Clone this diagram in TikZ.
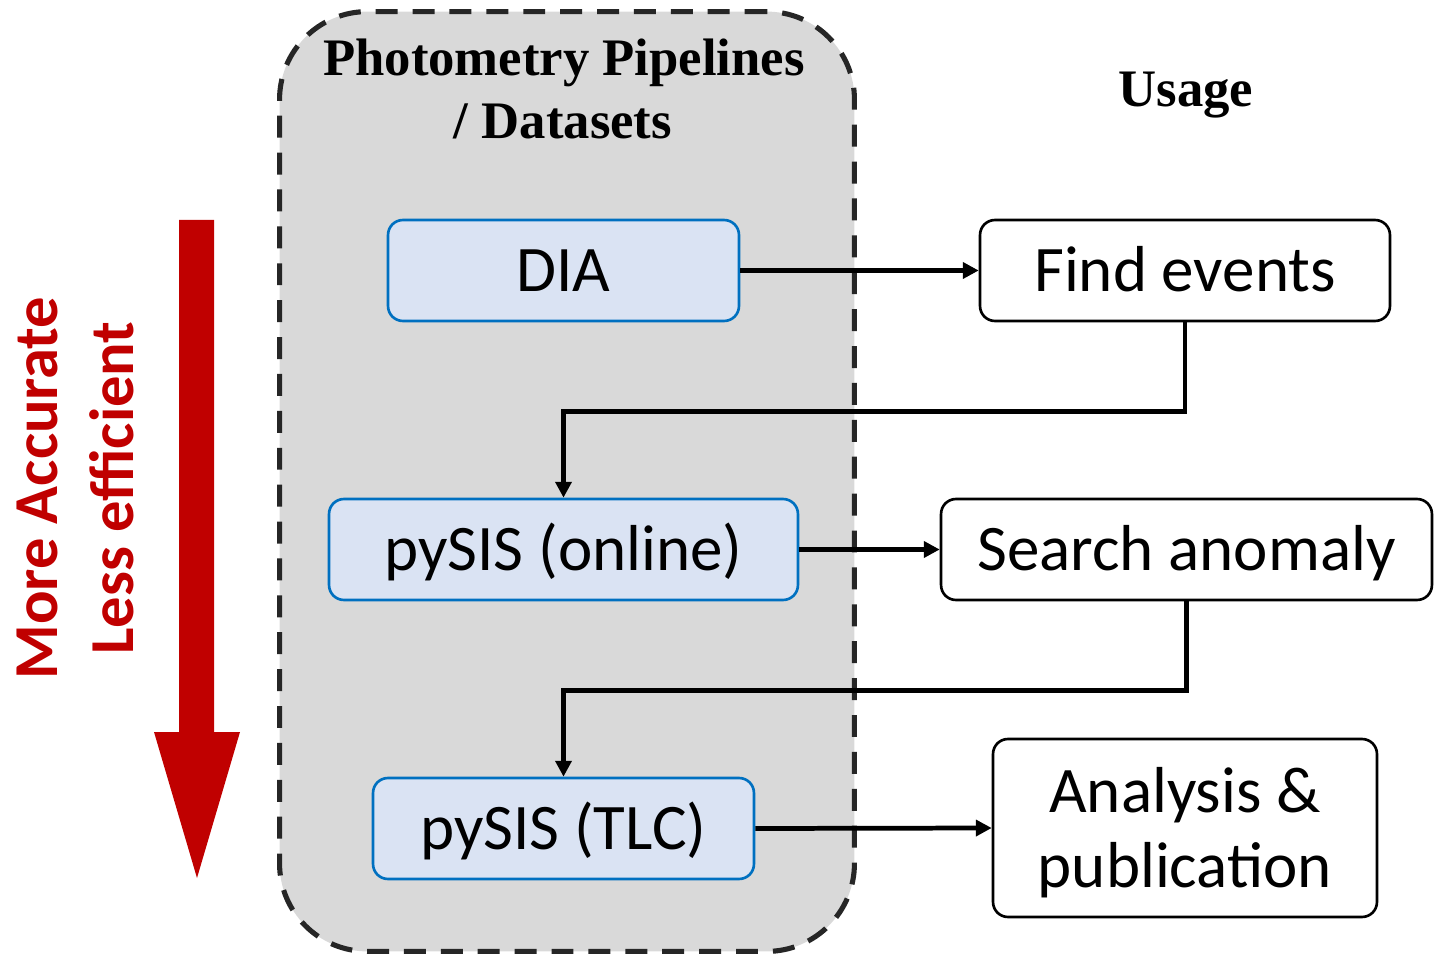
\documentclass[tikz,border=0pt]{standalone}
\usepackage{fontspec}
\setmainfont{Carlito}
\newfontfamily\titlefont{Liberation Serif}
\usetikzlibrary{arrows.meta}
\definecolor{panelgray}{HTML}{D9D9D9}
\definecolor{dashgray}{HTML}{262626}
\definecolor{boxblue}{HTML}{DAE3F3}
\definecolor{edgeblue}{HTML}{0070C0}
\definecolor{darkred}{HTML}{C00000}
\begin{document}
\begin{tikzpicture}[x=0.02cm,y=-0.02cm,
  panelbox/.style={draw=dashgray, fill=panelgray, line width=2.9pt, dash pattern=on 12.5pt off 8.5pt, rounded corners=50pt, inner sep=0pt, minimum width=11.5cm, minimum height=18.8cm},
  pipebox/.style={draw=edgeblue, fill=boxblue, line width=1.5pt, rounded corners=8.5pt, minimum height=2.02cm, inner sep=0pt, font=\fontsize{37}{43}\selectfont},
  usebox/.style={draw=black, fill=white, line width=1.5pt, rounded corners=8.5pt, inner sep=0pt, font=\fontsize{37}{43}\selectfont, align=center},
  capc/.style={text height=23.8pt, text depth=0pt},
  heading/.style={font=\titlefont\bfseries\fontsize{30}{36}\selectfont, anchor=base, inner sep=0pt},
  sidetext/.style={font=\bfseries\fontsize{35.6}{40}\selectfont, text=darkred, rotate=90, anchor=base, inner sep=0pt},
  conn/.style={draw=black, line width=2.7pt, -{Triangle[length=9pt,width=9pt]}},
]
\useasboundingbox (0,0) rectangle (1434,959);
% red direction arrow
\fill[darkred] (179,220) -- (214,220) -- (214,732) -- (240,732) -- (197,878) -- (154,732) -- (179,732) -- cycle;
\node[sidetext] (more) at (57,488) {More Accurate};
\node[sidetext] (less) at (133,488) {Less efficient};
% pipelines panel
\node[panelbox] (panel) at (567,481.5) {};
\node[heading] (ptitle1) at (564,76) {Photometry Pipelines};
\node[heading] (ptitle2) at (563,139) {/ Datasets};
\node[heading] (usage) at (1186,107) {Usage};
% pipeline boxes
\node[pipebox, capc, minimum width=7.02cm] (dia) at (563.5,270.5) {DIA};
\node[pipebox, capc, minimum width=9.38cm] (online) at (563.5,549.5) {pySIS (online)};
\node[pipebox, capc, minimum width=7.62cm] (tlc) at (563.5,828.5) {pySIS (TLC)};
% usage boxes
\node[usebox, capc, minimum width=8.2cm, minimum height=2.02cm] (find) at (1185,270.5) {Find events};
\node[usebox, capc, minimum width=9.82cm, minimum height=2.02cm] (search) at (1186.5,549.5) {Search anomaly};
\node[usebox, text height=68pt, text depth=0pt, minimum width=7.68cm, minimum height=3.56cm] (analysis) at (1185,828) {Analysis \&\\publication};
% connectors
\draw[conn] (dia.east) -- (find.west);
\draw[conn] (find.south) -- ++(0,89) -| (online.north);
\draw[conn] (online.east) -- (search.west);
\draw[conn] (search.south) -- ++(0,89) -| (tlc.north);
\draw[conn] (tlc.east) -- (analysis.west);
\end{tikzpicture}
\end{document}
